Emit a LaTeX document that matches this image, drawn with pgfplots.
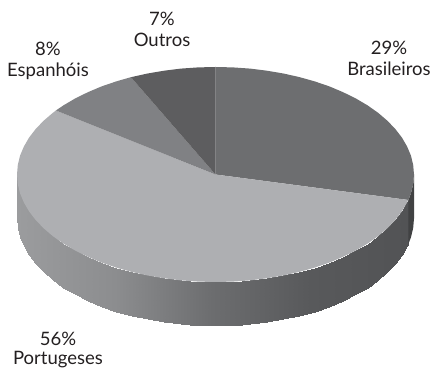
\documentclass[border=0pt]{standalone}
\usepackage{pgfplots}
\usepackage{fontspec}
\setmainfont{Lato}
\pgfplotsset{compat=1.18}
\definecolor{topBR}{RGB}{109,110,112}
\definecolor{topPT}{RGB}{174,175,178}
\definecolor{topES}{RGB}{128,129,132}
\definecolor{topOU}{RGB}{93,93,95}
\definecolor{edgeBR}{RGB}{65,66,67}
\definecolor{txt}{RGB}{35,31,32}
\newcommand{\lab}[3]{\node[text=txt,inner sep=0pt,font=\fontsize{18.5}{20}\selectfont,anchor=center] at (axis cs:#1,#2) {#3};}
\begin{document}
\begin{tikzpicture}
\begin{axis}[
  hide axis, scale only axis, width=432pt, height=369pt,
  xmin=-215.5, xmax=216.5, ymin=-194.5, ymax=174.5,
  clip=false,
  colormap={wall}{rgb255=(155,156,158) rgb255=(140,141,143) rgb255=(108,109,111) rgb255=(88,89,91) rgb255=(82,83,85)},
  point meta min=-198.5, point meta max=192.9,
]
% Reserve the full canvas around the pie
\path (axis cs:-215.5,-194.5) rectangle (axis cs:216.5,174.5);
% Outer wall of the Portugueses slice, one facet per angular step
\addplot[patch, patch type=rectangle, shader=interp, point meta=x] coordinates {
(-198.5,0) (-197.7,-9.4) (-197.7,-53.4) (-198.5,-44)
(-197.7,-9.4) (-195.5,-18.7) (-195.5,-62.7) (-197.7,-53.4)
(-195.5,-18.7) (-191.7,-27.8) (-191.7,-71.8) (-195.5,-62.7)
(-191.7,-27.8) (-186.5,-36.8) (-186.5,-80.8) (-191.7,-71.8)
(-186.5,-36.8) (-179.9,-45.4) (-179.9,-89.4) (-186.5,-80.8)
(-179.9,-45.4) (-171.9,-53.75) (-171.9,-97.75) (-179.9,-89.4)
(-171.9,-53.75) (-162.6,-61.7) (-162.6,-105.7) (-171.9,-97.75)
(-162.6,-61.7) (-152.1,-69.1) (-152.1,-113.1) (-162.6,-105.7)
(-152.1,-69.1) (-140.4,-76) (-140.4,-120) (-152.1,-113.1)
(-140.4,-76) (-127.6,-82.3) (-127.6,-126.3) (-140.4,-120)
(-127.6,-82.3) (-113.9,-88.1) (-113.9,-132.1) (-127.6,-126.3)
(-113.9,-88.1) (-99.25,-93.1) (-99.25,-137.1) (-113.9,-132.1)
(-99.25,-93.1) (-83.9,-97.4) (-83.9,-141.4) (-99.25,-137.1)
(-83.9,-97.4) (-67.9,-101) (-67.9,-145) (-83.9,-141.4)
(-67.9,-101) (-51.4,-103.8) (-51.4,-147.8) (-67.9,-145)
(-51.4,-103.8) (-34.5,-105.9) (-34.5,-149.9) (-51.4,-147.8)
(-34.5,-105.9) (-17.3,-107.1) (-17.3,-151.1) (-34.5,-149.9)
(-17.3,-107.1) (0,-107.5) (0,-151.5) (-17.3,-151.1)
(0,-107.5) (17.3,-107.1) (17.3,-151.1) (0,-151.5)
(17.3,-107.1) (34.5,-105.9) (34.5,-149.9) (17.3,-151.1)
(34.5,-105.9) (51.4,-103.8) (51.4,-147.8) (34.5,-149.9)
(51.4,-103.8) (67.9,-101) (67.9,-145) (51.4,-147.8)
(67.9,-101) (83.9,-97.4) (83.9,-141.4) (67.9,-145)
(83.9,-97.4) (99.25,-93.1) (99.25,-137.1) (83.9,-141.4)
(99.25,-93.1) (113.9,-88.1) (113.9,-132.1) (99.25,-137.1)
(113.9,-88.1) (127.6,-82.3) (127.6,-126.3) (113.9,-132.1)
(127.6,-82.3) (140.4,-76) (140.4,-120) (127.6,-126.3)
(140.4,-76) (152.1,-69.1) (152.1,-113.1) (140.4,-120)
(152.1,-69.1) (162.6,-61.7) (162.6,-105.7) (152.1,-113.1)
(162.6,-61.7) (171.9,-53.75) (171.9,-97.75) (162.6,-105.7)
(171.9,-53.75) (179.9,-45.4) (179.9,-89.4) (171.9,-97.75)
(179.9,-45.4) (186.5,-36.8) (186.5,-80.8) (179.9,-89.4)
(186.5,-36.8) (191.7,-27.8) (191.7,-71.8) (186.5,-80.8)
(191.7,-27.8) (192.9,-25.5) (192.9,-69.5) (191.7,-71.8)
};
% Outer wall of the Brasileiros slice
\addplot[fill=edgeBR, draw=none] coordinates {
(192.9,-25.5) (195.5,-18.7) (197.7,-9.4) (198.5,0)
(198.5,-44) (197.7,-53.4) (195.5,-62.7) (192.9,-69.5)
} -- cycle;
% Top faces
\addplot[fill=topBR, draw=none] coordinates {
(0,0) (0,107.5) (17.3,107.1) (34.5,105.9) (51.4,103.8) (67.9,101) (83.9,97.4)
(99.25,93.1) (113.9,88.1) (127.6,82.3) (140.4,76) (152.1,69.1) (162.6,61.7)
(171.9,53.75) (179.9,45.4) (186.5,36.8) (191.7,27.8) (195.5,18.7) (197.7,9.4)
(198.5,0) (197.7,-9.4) (195.5,-18.7) (192.9,-25.5)
} -- cycle;
\addplot[fill=topPT, draw=none] coordinates {
(0,0) (192.9,-25.5) (191.7,-27.8) (186.5,-36.8) (179.9,-45.4) (171.9,-53.75)
(162.6,-61.7) (152.1,-69.1) (140.4,-76) (127.6,-82.3) (113.9,-88.1) (99.25,-93.1)
(83.9,-97.4) (67.9,-101) (51.4,-103.8) (34.5,-105.9) (17.3,-107.1) (0,-107.5)
(-17.3,-107.1) (-34.5,-105.9) (-51.4,-103.8) (-67.9,-101) (-83.9,-97.4)
(-99.25,-93.1) (-113.9,-88.1) (-127.6,-82.3) (-140.4,-76) (-152.1,-69.1)
(-162.6,-61.7) (-171.9,-53.75) (-179.9,-45.4) (-186.5,-36.8) (-191.7,-27.8)
(-195.5,-18.7) (-197.7,-9.4) (-198.5,0) (-197.7,9.4) (-195.5,18.7) (-191.7,27.8)
(-186.5,36.8) (-179.9,45.4) (-171.9,53.75) (-162.6,61.7) (-159.6,64)
} -- cycle;
\addplot[fill=topES, draw=none] coordinates {
(0,0) (-159.6,64) (-152.1,69.1) (-140.4,76) (-127.6,82.3) (-113.9,88.1)
(-99.25,93.1) (-84.6,97.3)
} -- cycle;
\addplot[fill=topOU, draw=none] coordinates {
(0,0) (-84.6,97.3) (-67.9,101) (-51.4,103.8) (-34.5,105.9) (-17.3,107.1) (0,107.5)
} -- cycle;
% Slice labels
\lab{173.5}{126.5}{29\%}
\lab{173.5}{105.5}{Brasileiros}
\lab{-53.5}{155.5}{7\%}
\lab{-53.5}{134.5}{Outros}
\lab{-167.5}{125.5}{8\%}
\lab{-167.5}{103.5}{Espanhóis}
\lab{-157.5}{-164.5}{56\%}
\lab{-157.5}{-184.7}{Portugeses}
\end{axis}
\end{tikzpicture}
\end{document}
